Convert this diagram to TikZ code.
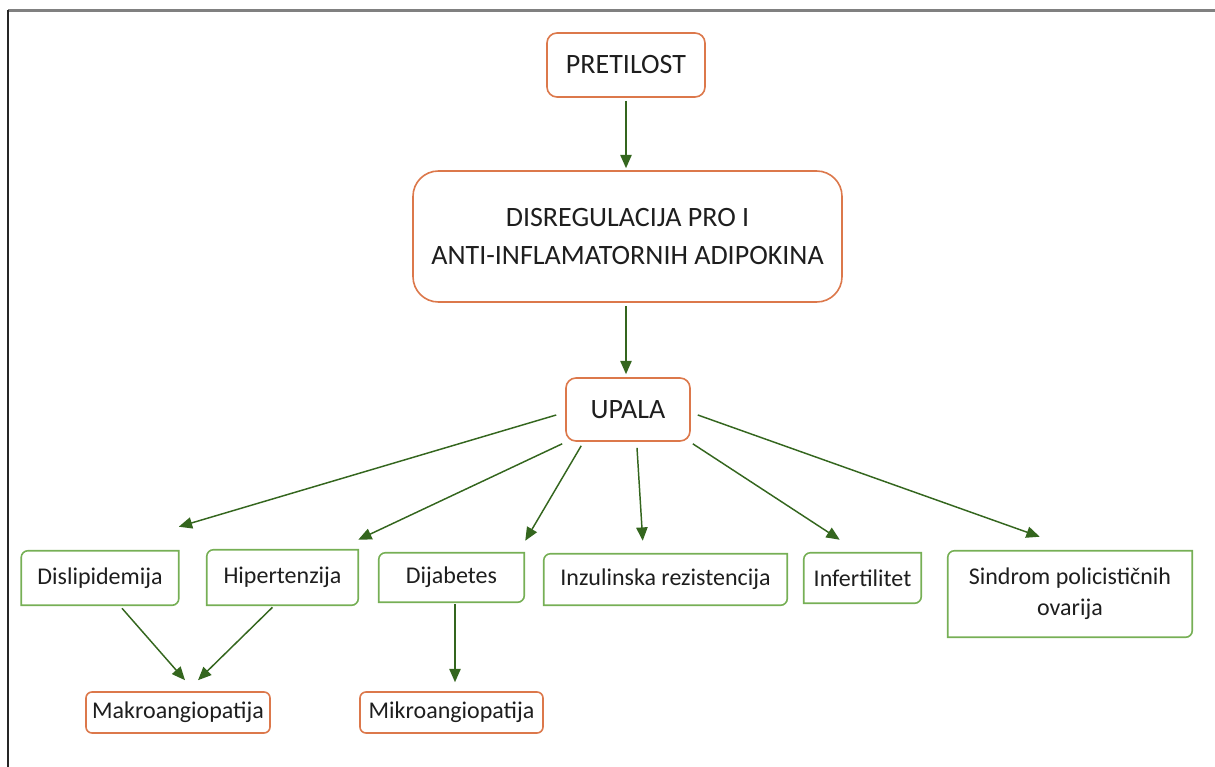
\documentclass[tikz,border=0pt]{standalone}
\usepackage{fontspec}
\setmainfont{Carlito}
\usetikzlibrary{arrows.meta,calc}

\definecolor{boxorange}{RGB}{220,120,75}
\definecolor{boxgreen}{RGB}{118,175,85}
\definecolor{arrgreen}{RGB}{52,102,30}
\definecolor{txtgray}{RGB}{30,30,30}

\begin{document}
\begin{tikzpicture}[x=0.75pt,y=-0.75pt,
  every node/.style={text=txtgray,inner sep=0pt,align=center},
  Onode/.style={draw=boxorange,line width=1.2pt,fill=white},
  Bignode/.style={Onode,font=\fontsize{21}{28}\selectfont},
  Gsnode/.style={font=\fontsize{18}{23}\selectfont},
  Msnode/.style={Onode,rounded corners=4.5pt,font=\fontsize{18}{23}\selectfont},
  Gline/.style={draw=boxgreen,line width=1.2pt,rounded corners=5pt,line cap=rect},
  arr/.style={draw=arrgreen,line width=1.1pt,-{Triangle[length=10pt,width=8.5pt]}}
]
\useasboundingbox (0,0) rectangle (1215,767);

% frame
\draw[gray,line width=1.8pt] (8,10.5) -- (1215,10.5);
\draw[black!85,line width=1.5pt] (8,10) -- (8,767);

% the top chain
\node[Bignode,rounded corners=7.5pt,minimum width=118.5pt,minimum height=48pt] (pretilost) at (626,65) {PRETILOST};
\node[Bignode,rounded corners=19pt,minimum width=321.75pt,minimum height=98.25pt] (disreg) at (627.5,236.5)
  {DISREGULACIJA PRO I\\ANTI-INFLAMATORNIH ADIPOKINA};
\node[Bignode,rounded corners=7.5pt,minimum width=93pt,minimum height=47.25pt] (upala) at (628,409.5) {UPALA};

% the consequences
\node[Gsnode,minimum width=117.75pt,minimum height=40.5pt] (dislip) at (100,578) {Dislipidemija};
\node[Gsnode,minimum width=113.25pt,minimum height=41.25pt] (hiper) at (282.5,577.5) {Hipertenzija};
\node[Gsnode,minimum width=108.75pt,minimum height=36.75pt] (dijab) at (451.5,577.5) {Dijabetes};
\node[Gsnode,minimum width=182.25pt,minimum height=38.25pt] (inzul) at (665.5,579.5) {Inzulinska rezistencija};
\node[Gsnode,minimum width=87.75pt,minimum height=37.5pt] (infert) at (862.5,578) {Infertilitet};
\node[Gsnode,minimum width=183pt,minimum height=64.5pt] (sindrom) at (1070,594) {Sindrom policističnih\\ovarija};

\foreach \n in {dislip,hiper,dijab,inzul,infert,sindrom}
  \draw[Gline] (\n.south west) -- (\n.north west) -- (\n.north east)
               (\n.north east) -- (\n.south east) -- (\n.south west);

% the angiopathies
\node[Msnode,minimum width=138pt,minimum height=30.75pt] (makro) at (178,712.5) {Makroangiopatija};
\node[Msnode,minimum width=137.25pt,minimum height=30.75pt] (mikro) at (451.5,712.5) {Mikroangiopatija};

% the arrows
\draw[arr] ($(pretilost.south)+(0,3)$) -- ($(disreg.north)+(-1.5,-2)$);
\draw[arr] ($(disreg.south)+(-1.5,3)$) -- ($(upala.north)+(-2,-3)$);
\draw[arr] ($(upala.west)+(-9,5.5)$) -- ($(dislip.north east)+(0,-24)$);
\draw[arr] ($(upala.south west)+(-3,2)$) -- ($(hiper.north east)+(0,-10)$);
\draw[arr] ($(upala.south west)+(16,4)$) -- ($(dijab.north east)+(1,-12)$);
\draw[arr] ($(upala.south)+(9,6)$) -- ($(inzul.north west)+(99,-13)$);
\draw[arr] ($(upala.south east)+(2,2)$) -- ($(infert.north west)+(36,-13)$);
\draw[arr] ($(upala.east)+(7,5.5)$) -- ($(sindrom.north west)+(92,-14)$);
\draw[arr] ($(dislip.south)+(22,3)$) -- ($(makro.north)+(7,-11)$);
\draw[arr] ($(hiper.south)+(-10,2)$) -- ($(makro.north)+(20,-11)$);
\draw[arr] ($(dijab.south)+(3.5,2)$) -- ($(mikro.north)+(3.5,-9)$);

\end{tikzpicture}
\end{document}
